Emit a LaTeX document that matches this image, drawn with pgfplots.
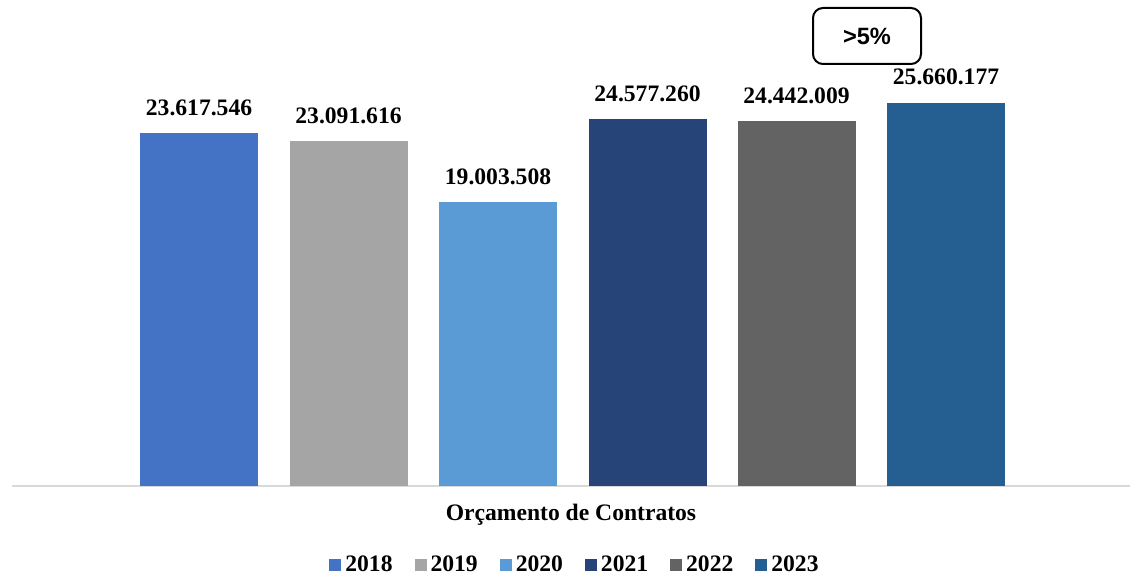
\documentclass[border=0pt]{standalone}
\usepackage{pgfplots}
\pgfplotsset{compat=1.18}
\usepackage{fontspec}
\setmainfont{Liberation Serif}
\newfontfamily\arialb{Liberation Sans}
\definecolor{c18}{HTML}{4472C4}
\definecolor{c19}{HTML}{A5A5A5}
\definecolor{c20}{HTML}{5B9BD5}
\definecolor{c21}{HTML}{264478}
\definecolor{c22}{HTML}{636363}
\definecolor{c23}{HTML}{255E91}
\begin{document}
\begin{tikzpicture}
\begin{axis}[
  scale only axis,
  width=565pt, height=287.5pt,
  xmin=0, xmax=1130,
  ymin=-5.957, ymax=32.53,
  axis lines=none,
  ybar, bar width=59pt, bar shift=0pt,
  clip=false,
  point meta=explicit symbolic,
  nodes near coords={\pgfplotspointmeta},
  nodes near coords style={font=\fontsize{11.8}{14}\selectfont\bfseries, anchor=south, inner sep=0pt, yshift=8.5pt, text=black},
  legend columns=6,
  legend style={at={(rel axis cs:0.5097,0.0174)}, anchor=center, draw=none, fill=none,
    font=\fontsize{11.8}{14}\selectfont\bfseries, inner sep=0pt,
    /tikz/every even column/.append style={column sep=9pt}},
  legend image code/.code={\fill[#1] (0pt,-3pt) rectangle (6pt,3pt);},
]
\draw[color=black!15, line width=1pt] (axis cs:12,0) -- (axis cs:1130,0);
\addplot[fill=c18, draw=none] coordinates {(199,23.617546) [23.617.546]};
\addplot[fill=c19, draw=none] coordinates {(348.5,23.091616) [23.091.616]};
\addplot[fill=c20, draw=none] coordinates {(498,19.003508) [19.003.508]};
\addplot[fill=c21, draw=none] coordinates {(647.5,24.577260) [24.577.260]};
\addplot[fill=c22, draw=none] coordinates {(796.5,24.442009) [24.442.009]};
\addplot[fill=c23, draw=none] coordinates {(946,25.660177) [25.660.177]};
\legend{2018,2019,2020,2021,2022,2023}
\node[font=\fontsize{11.8}{14}\selectfont\bfseries] at (rel axis cs:0.5053,0.1043) {Orçamento de Contratos};
\node[draw=black, line width=1pt, rounded corners=5pt, minimum width=54pt, minimum height=28pt,
  font=\arialb\fontsize{11.8}{14}\selectfont\bfseries] at (axis cs:867,{(486-36)/14.94}) {>5\%};
\end{axis}
\pgfresetboundingbox
\path[use as bounding box] (current axis.south west) rectangle (current axis.north east);
\end{tikzpicture}
\end{document}
